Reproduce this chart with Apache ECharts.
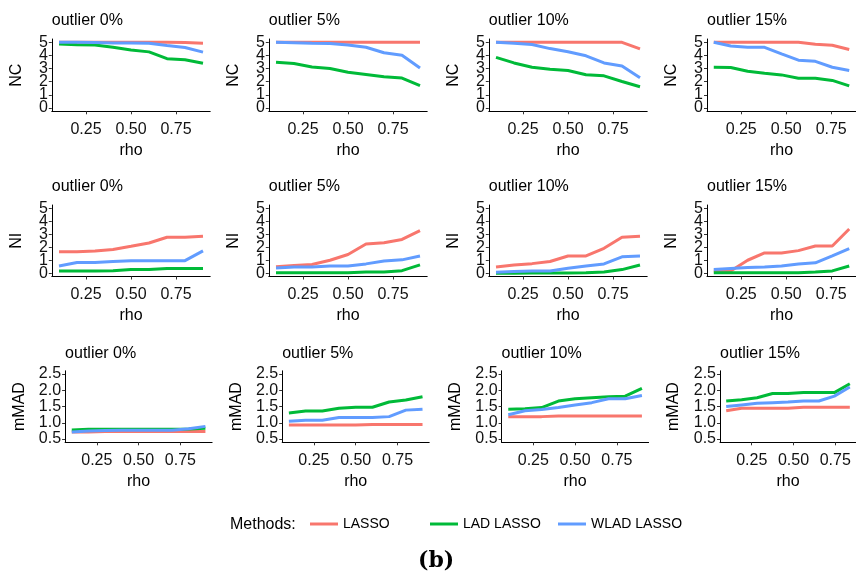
<!DOCTYPE html>
<html><head><meta charset="utf-8">
<script src="https://cdn.jsdelivr.net/npm/echarts@6/dist/echarts.min.js"></script>
<style>html,body{margin:0;padding:0;background:#fff}#c{width:856px;height:577px}</style>
</head><body><div id="c"></div>
<script>
// ---------- data ----------
const rho = [0.1, 0.2, 0.3, 0.4, 0.5, 0.6, 0.7, 0.8, 0.9];
const methods = ['LASSO', 'LAD LASSO', 'WLAD LASSO'];
const outlierLabels = ['outlier 0%', 'outlier 5%', 'outlier 10%', 'outlier 15%'];
const metrics = ['NC', 'NI', 'mMAD'];
const xTicks = [0.25, 0.50, 0.75];
const countTicks = [0, 1, 2, 3, 4, 5];
const madTicks = [0.5, 1.0, 1.5, 2.0, 2.5];

// NC (rows: outlier 0%, 5%, 10%, 15%)
const NC_LASSO = [
  [5, 5, 5, 5, 5, 5, 5, 4.98, 4.92],
  [5, 5, 5, 5, 5, 5, 5, 5, 5],
  [5, 5, 5, 5, 5, 5, 5, 5, 4.5],
  [5, 5, 5, 5, 5, 5, 4.85, 4.77, 4.45]
];
const NC_LAD = [
  [4.87, 4.82, 4.8, 4.62, 4.42, 4.27, 3.75, 3.67, 3.4],
  [3.48, 3.38, 3.12, 3.0, 2.72, 2.55, 2.38, 2.28, 1.7],
  [3.85, 3.43, 3.1, 2.95, 2.85, 2.53, 2.45, 2.02, 1.62],
  [3.1, 3.08, 2.8, 2.65, 2.52, 2.27, 2.27, 2.1, 1.68]
];
const NC_WLAD = [
  [5, 5, 4.98, 4.95, 4.95, 4.92, 4.75, 4.6, 4.25],
  [5, 4.97, 4.92, 4.9, 4.8, 4.62, 4.2, 4.02, 3.05],
  [5, 4.93, 4.83, 4.52, 4.28, 3.97, 3.43, 3.2, 2.3],
  [5, 4.72, 4.62, 4.62, 4.12, 3.64, 3.55, 3.1, 2.85]
];
// NI
const NI_LASSO = [
  [1.65, 1.65, 1.72, 1.82, 2.07, 2.33, 2.77, 2.77, 2.85],
  [0.5, 0.6, 0.67, 1.0, 1.44, 2.25, 2.35, 2.6, 3.28],
  [0.48, 0.63, 0.74, 0.9, 1.33, 1.33, 1.92, 2.77, 2.85],
  [0.18, 0.18, 1.0, 1.56, 1.56, 1.74, 2.1, 2.1, 3.4]
];
const NI_LAD = [
  [0.18, 0.18, 0.18, 0.2, 0.28, 0.28, 0.36, 0.36, 0.36],
  [0.03, 0.03, 0.03, 0.03, 0.03, 0.1, 0.1, 0.2, 0.64],
  [0, 0, 0.02, 0.02, 0.02, 0.03, 0.1, 0.28, 0.64],
  [0.03, 0.03, 0.03, 0.03, 0.03, 0.03, 0.1, 0.18, 0.56]
];
const NI_WLAD = [
  [0.56, 0.82, 0.83, 0.9, 0.97, 0.97, 0.97, 0.97, 1.72],
  [0.41, 0.49, 0.49, 0.56, 0.56, 0.72, 0.95, 1.03, 1.33],
  [0.08, 0.13, 0.18, 0.18, 0.38, 0.56, 0.72, 1.26, 1.33],
  [0.28, 0.36, 0.44, 0.49, 0.56, 0.72, 0.8, 1.33, 1.9]
];
// mMAD
const MAD_LASSO = [
  [0.72, 0.72, 0.73, 0.73, 0.73, 0.73, 0.73, 0.73, 0.73],
  [0.93, 0.93, 0.93, 0.93, 0.93, 0.95, 0.95, 0.95, 0.95],
  [1.19, 1.19, 1.19, 1.21, 1.21, 1.21, 1.21, 1.21, 1.21],
  [1.37, 1.45, 1.45, 1.45, 1.45, 1.48, 1.48, 1.48, 1.48]
];
const MAD_LAD = [
  [0.78, 0.8, 0.8, 0.8, 0.8, 0.8, 0.8, 0.81, 0.83],
  [1.3, 1.36, 1.36, 1.45, 1.48, 1.48, 1.64, 1.7, 1.8],
  [1.42, 1.43, 1.47, 1.67, 1.74, 1.77, 1.8, 1.82, 2.06],
  [1.67, 1.71, 1.77, 1.9, 1.9, 1.93, 1.93, 1.93, 2.2]
];
const MAD_WLAD = [
  [0.72, 0.75, 0.76, 0.77, 0.77, 0.77, 0.77, 0.82, 0.89],
  [1.05, 1.08, 1.08, 1.16, 1.16, 1.16, 1.19, 1.39, 1.42],
  [1.25, 1.37, 1.41, 1.47, 1.55, 1.62, 1.74, 1.74, 1.84],
  [1.5, 1.55, 1.6, 1.62, 1.64, 1.67, 1.67, 1.82, 2.1]
];

// ---------- layout / style ----------
const COLORS = ['#F8766D', '#00BA38', '#619CFF'];
const FONT = 'Liberation Sans';
const rowData = [[NC_LASSO, NC_LAD, NC_WLAD], [NI_LASSO, NI_LAD, NI_WLAD], [MAD_LASSO, MAD_LAD, MAD_WLAD]];
const rowTicks = [countTicks, countTicks, madTicks];
const rowLefts = [[51.8, 268.8, 488.8, 707], [51.8, 268.8, 488.8, 707], [65.1, 282.2, 501.6, 720]];
const rowW = [158.4, 158.4, 147];
const rowTop = [39, 205, 370.8];
const rowH = [72.3, 71.5, 71.5];
const rowTitleTop = [13, 179, 346];
const rowNameGap = [27, 27, 38];
const xMin = 0.06, xMax = 0.94;

const grid = [], xAxis = [], yAxis = [], series = [], title = [];
let gi = 0;
for (let r = 0; r < 3; r++) {
  const ticks = rowTicks[r];
  const tFirst = ticks[0], tLast = ticks[ticks.length - 1];
  const pad = (tLast - tFirst) * 0.05;
  const yMin = tFirst - pad, yMax = tLast + pad;
  for (let c = 0; c < 4; c++) {
    const L = rowLefts[r][c], W = rowW[r], T = rowTop[r], H = rowH[r];
    // data grid
    grid.push({ left: L, top: T, width: W, height: H, containLabel: false });
    const a = gi++;
    xAxis.push({
      gridIndex: a, type: 'value', min: xMin, max: xMax,
      axisLine: { show: true, onZero: false, lineStyle: { color: '#000', width: 1 } },
      axisTick: { show: false }, axisLabel: { show: false }, splitLine: { show: false },
      name: 'rho', nameLocation: 'middle', nameGap: 31,
      nameTextStyle: { fontFamily: FONT, fontSize: 16, color: '#000' }
    });
    yAxis.push({
      gridIndex: a, type: 'value', min: yMin, max: yMax,
      axisLine: { show: true, onZero: false, lineStyle: { color: '#000', width: 1 } },
      axisTick: { show: false }, axisLabel: { show: false }, splitLine: { show: false },
      name: metrics[r], nameLocation: 'middle', nameGap: rowNameGap[r],
      nameTextStyle: { fontFamily: FONT, fontSize: 16, color: '#000' }
    });
    // tick grid: spans exactly the tick range, evenly spaced tick labels
    const xs = W / (xMax - xMin), ys = H / (yMax - yMin);
    grid.push({
      left: L + (xTicks[0] - xMin) * xs, width: (xTicks[xTicks.length - 1] - xTicks[0]) * xs,
      top: T + (yMax - tLast) * ys, height: (tLast - tFirst) * ys
    });
    const b = gi++;
    xAxis.push({
      gridIndex: b, type: 'category', boundaryGap: false,
      data: xTicks.map(v => v.toFixed(2)),
      offset: (tFirst - yMin) * ys,
      axisLine: { show: false }, splitLine: { show: false },
      axisTick: { show: true, length: 3, interval: 0, lineStyle: { color: '#333' } },
      axisLabel: { fontFamily: FONT, fontSize: 16, color: '#111', margin: 10, interval: 0 }
    });
    yAxis.push({
      gridIndex: b, type: 'category', boundaryGap: false,
      data: ticks.map(v => (r === 2 ? v.toFixed(1) : String(v))),
      offset: (xTicks[0] - xMin) * xs,
      axisLine: { show: false }, splitLine: { show: false },
      axisTick: { show: true, length: 3, interval: 0, lineStyle: { color: '#333' } },
      axisLabel: { fontFamily: FONT, fontSize: 16, color: '#111', margin: 4, interval: 0, lineHeight: 12 }
    });
    for (let m = 0; m < 3; m++) {
      const vals = rowData[r][m][c];
      series.push({
        name: methods[m], type: 'line', xAxisIndex: a, yAxisIndex: a,
        data: rho.map((x, i) => [x, vals[i]]),
        symbol: 'none', showSymbol: false, silent: true, animation: false,
        lineStyle: { color: COLORS[m], width: 3 }, itemStyle: { color: COLORS[m] }
      });
    }
    title.push({
      text: outlierLabels[c], left: L, top: rowTitleTop[r],
      textStyle: { fontFamily: FONT, fontSize: 16, fontWeight: 'normal', color: '#000' }, padding: 0
    });
  }
}
title.push({ text: 'Methods:', left: 230, top: 517, padding: 0,
  textStyle: { fontFamily: FONT, fontSize: 16, fontWeight: 'normal', color: '#000' } });
title.push({ text: '(b)', left: 418, top: 550, padding: 0,
  textStyle: { fontFamily: 'DejaVu Serif', fontSize: 22, fontWeight: 'bold', color: '#000' } });

const legendLefts = [310, 430, 558];
const legend = methods.map((m, i) => ({
  data: [m], left: legendLefts[i], top: 517, padding: 0,
  icon: 'rect', itemWidth: 28, itemHeight: 3, itemGap: 4,
  textStyle: { fontFamily: FONT, fontSize: 14, color: '#000' }
}));

const chart = echarts.init(document.getElementById('c'), null, { renderer: 'canvas' });
chart.setOption({ animation: false, backgroundColor: '#fff', title, legend, grid, xAxis, yAxis, series });
</script></body></html>
